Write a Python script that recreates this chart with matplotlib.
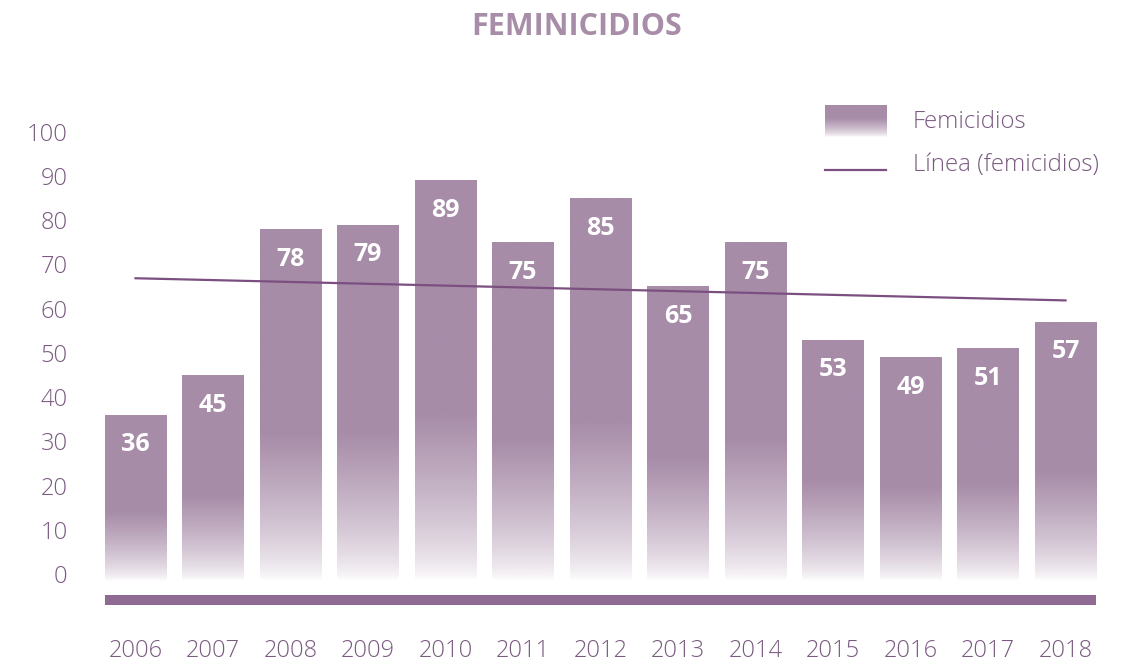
import matplotlib
matplotlib.use("Agg")
import matplotlib.pyplot as plt
import numpy as np
from matplotlib.patches import Rectangle
from matplotlib.colors import to_rgb

# data
years = ["2006", "2007", "2008", "2009", "2010", "2011", "2012",
         "2013", "2014", "2015", "2016", "2017", "2018"]
femicidios = [36, 45, 78, 79, 89, 75, 85, 65, 75, 53, 49, 51, 57]
y_ticks = [0, 10, 20, 30, 40, 50, 60, 70, 80, 90, 100]

bar_col = to_rgb("#a78ca8")
line_col = "#7b4f80"
band_col = "#8f6b93"
text_col = "#7a5a80"
title_col = "#a88da9"

plt.rcParams['font.family'] = ['Open Sans', 'DejaVu Sans']

fig = plt.figure(figsize=(11.28, 6.61), dpi=100)
ax = fig.add_axes([96.75 / 1128, 1 - 609.4 / 661, 1007.5 / 1128, 486.4 / 661])

x = np.arange(len(years))
width = 0.79


def grad_img(n=200, part=0.42):
    # per-bar gradient: white at the bottom, solid in the upper part
    t = np.linspace(1, 0, n)
    f = np.clip(t / part, 0, 1) ** 0.7
    img = np.ones((n, 1, 3))
    for c in range(3):
        img[:, 0, c] = 1 - f * (1 - bar_col[c])
    return img


for xi, v in zip(x, femicidios):
    ax.imshow(grad_img(), extent=(xi - width / 2, xi + width / 2, -1.5, v),
              aspect='auto', interpolation='bilinear', zorder=1)
    ax.annotate(str(v), (xi, v), xytext=(0, -21.6), textcoords='offset points',
                ha='center', va='center', color='white', fontsize=18,
                fontweight='bold', zorder=4)

# trend line (linear fit of the series)
k, b = np.polyfit(x, femicidios, 1)
ax.plot(x, k * x + b, color=line_col, lw=1.6, zorder=3)

# bottom band
ax.add_patch(Rectangle((x[0] - width / 2, -7.0), x[-1] - x[0] + width, 2.3,
                       color=band_col, lw=0, zorder=2))

ax.set_xlim(-0.5, len(years) - 0.5)
ax.set_ylim(-8, 102)
ax.set_yticks(y_ticks)
ax.set_yticklabels([str(t) for t in y_ticks], fontweight='light')
ax.set_xticks(x)
ax.set_xticklabels(years, fontweight='light')
ax.tick_params(axis='y', length=0, pad=21, labelsize=17, labelcolor=text_col)
ax.tick_params(axis='x', length=0, pad=21, labelsize=17, labelcolor=text_col)
for s in ax.spines.values():
    s.set_visible(False)

fig.text(577 / 1128, 1 - 27 / 661, "FEMINICIDIOS", ha='center', va='center',
         fontsize=22, fontweight='bold', color=title_col)

# legend (manual)
lax = fig.add_axes([825 / 1128, 1 - 137 / 661, 61 / 1128, 32 / 661])
lax.imshow(grad_img(100, 0.6), extent=(0, 1, 0, 1), aspect='auto')
lax.set_axis_off()
fig.text(913 / 1128, 1 - 122 / 661, "Femicidios", ha='left', va='center',
         fontsize=17.3, fontweight='light', color=text_col)
fig.add_artist(plt.Line2D([825 / 1128, 886 / 1128], [1 - 170 / 661, 1 - 170 / 661],
                          color=line_col, lw=1.6))
fig.text(913 / 1128, 1 - 165 / 661, "Línea (femicidios)", ha='left', va='center',
         fontsize=17.3, fontweight='light', color=text_col)

fig.savefig("out.png", dpi=100)
